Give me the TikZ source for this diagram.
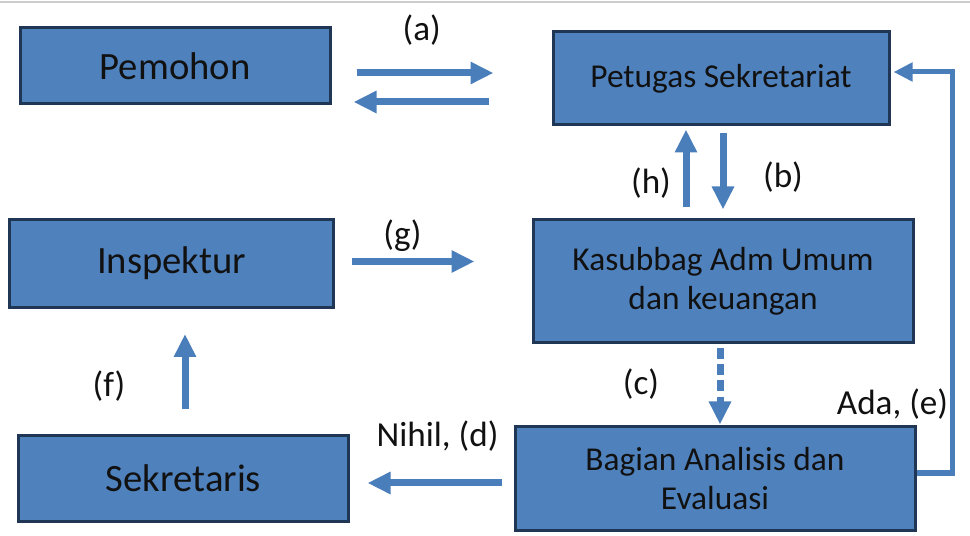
\documentclass[tikz,border=0pt]{standalone}
\usepackage{fontspec}
\setmainfont{Carlito}
\usepackage{xcolor}
\usepackage{tikz}
\usetikzlibrary{calc, positioning, arrows.meta}
\definecolor{boxBlue}{HTML}{4F81BD}
\definecolor{boxEdge}{HTML}{1F3654}
\definecolor{flowBlue}{HTML}{4A7EBB}
\definecolor{inkText}{HTML}{111111}
\tikzset{
    role/.style={rectangle, draw=boxEdge, line width=0.06cm, fill=boxBlue, align=center, inner sep=0pt, text=inkText, font=\fontsize{22}{26}\selectfont},
    unit/.style={role, font=\fontsize{19}{22.5}\selectfont},
    arrow/.style={-{Triangle[length=0.46cm, width=0.42cm]}, line width=0.14cm, draw=flowBlue},
    feedback/.style={-{Triangle[length=0.38cm, width=0.36cm]}, line width=0.1cm, draw=flowBlue},
    lbl/.style={font=\fontsize{20}{24}\selectfont, text=inkText, inner sep=0pt}
}

\begin{document}
\begin{tikzpicture}
        \useasboundingbox (0,0) rectangle (19.4,-10.72);
        \draw[gray!40, line width=0.04cm] (0,-0.04) -- (19.4,-0.04);

        % Left column
        \node[role, minimum width=6.2cm, minimum height=1.52cm] (Pemohon) at (3.5,-1.32) {Pemohon};

        % Right column
        \node[unit, minimum width=6.72cm, minimum height=1.86cm, right=4.4cm of Pemohon, yshift=-0.25cm] (Petugas) {Petugas Sekretariat};
        \node[unit, minimum width=7.6cm, minimum height=2.46cm, below=1.84cm of Petugas, xshift=0.04cm] (Kasubbag) {Kasubbag Adm Umum\\dan keuangan};
        \node[unit, minimum width=8cm, minimum height=2.06cm, below=1.62cm of Kasubbag, xshift=-0.16cm] (Bagian) {Bagian Analisis dan\\Evaluasi};

        % Left column, lower
        \node[role, minimum width=6.46cm, minimum height=1.76cm, left=3.94cm of Kasubbag, yshift=0.36cm] (Inspektur) {Inspektur};
        \node[role, minimum width=6.58cm, minimum height=1.72cm, left=3.28cm of Bagian] (Sekretaris) {Sekretaris};

        % Connections
        \draw[arrow, shorten <=0.5cm, shorten >=1.16cm] ($(Pemohon.east)+(0,-0.14)$) -- node[lbl, pos=0.41, yshift=0.86cm] (lblA) {(a)} ($(Pemohon.east -| Petugas.west)+(0,-0.14)$);
        \draw[arrow, shorten <=1.26cm, shorten >=0.44cm] ($(Pemohon.east -| Petugas.west)+(0,-0.72)$) -- ($(Pemohon.east)+(0,-0.72)$);

        \draw[arrow, shorten <=0.22cm, shorten >=0.06cm] ($(Petugas.south |- Kasubbag.north)+(-0.7,0)$) -- node[lbl, pos=0.387, xshift=-0.7cm] (lblH) {(h)} ($(Petugas.south)+(-0.7,0)$);
        \draw[arrow, shorten <=0.14cm, shorten >=0.18cm] ($(Petugas.south)+(0.04,0)$) -- node[lbl, pos=0.548, xshift=1.2cm] (lblB) {(b)} ($(Petugas.south |- Kasubbag.north)+(0.04,0)$);

        \draw[arrow, shorten <=0.34cm, shorten >=1.14cm] ($(Inspektur.east)+(0,0.04)$) -- node[lbl, pos=0.345, yshift=0.52cm] (lblG) {(g)} ($(Inspektur.east -| Kasubbag.west)+(0,0.04)$);

        \draw[arrow, dash pattern=on 0.22cm off 0.1cm, shorten <=0.08cm, shorten >=0.02cm] ($(Kasubbag.south)+(-0.06,0)$) -- node[lbl, pos=0.494, xshift=-1.58cm] (lblC) {(c)} ($(Kasubbag.south |- Bagian.north)+(-0.06,0)$);

        \draw[arrow, shorten <=0.24cm, shorten >=0.36cm] ($(Bagian.west)+(0,-0.09)$) -- node[lbl, pos=0.463, yshift=0.94cm] (lblD) {Nihil, (d)} ($(Bagian.west -| Sekretaris.east)+(0,-0.09)$);

        \draw[arrow, shorten <=0.5cm, shorten >=0.5cm] ($(Sekretaris.north)+(0.03,0)$) -- node[lbl, pos=0.382, xshift=-1.52cm] (lblF) {(f)} ($(Sekretaris.north |- Inspektur.south)+(0.03,0)$);

        % Back to Petugas
        \draw[feedback, shorten >=0.06cm] ($(Bagian.east)+(0,0.11)$) -- ++(0.72,0) |- ($(Petugas.east)+(0,0.13)$);
        \node[lbl] (lblE) at ($(Bagian.north east)+(-0.48,0.42)$) {Ada, (e)};

    \end{tikzpicture}
\end{document}
